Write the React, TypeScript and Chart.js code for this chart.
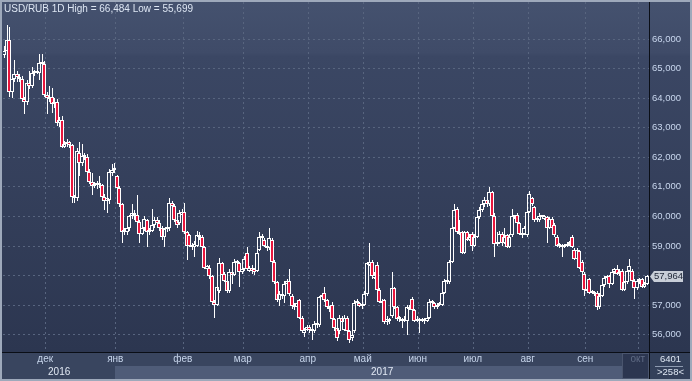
import React, { useEffect, useRef } from 'react';
import { Chart, registerables } from 'chart.js';

Chart.register(...registerables);

// ---- Daily OHLC, USD/RUB ----
const OPEN = [
  65.45, 65.6, 65.95, 64.2, 64.65, 64.8, 64.7, 64.65, 63.95, 63.85,
  64.5, 64.4, 64.85, 64.9, 64.85, 65.2, 65.15, 64.1, 63.95, 64.05,
  63.8, 63.85, 63.15, 63.25, 62.35, 62.45, 62.5, 62.4, 60.65, 60.6,
  62.15, 61.8, 62.05, 62.0, 61.5, 61.15, 61.0, 61.05, 61.1, 61.05,
  60.65, 60.5, 60.55, 61.45, 61.55, 61.35, 60.95, 60.4, 59.45, 59.45,
  59.6, 60.0, 60.1, 60.05, 59.8, 59.4, 59.6, 59.85, 59.45, 59.5,
  59.7, 59.85, 59.75, 59.6, 59.3, 59.55, 59.6, 60.45, 60.35, 59.85,
  59.75, 60.05, 60.15, 59.45, 59.35, 59.0, 58.95, 59.0, 59.35, 59.3,
  58.95, 58.2, 58.25, 57.95, 57.1, 57.0, 57.45, 58.4, 58.05, 57.8,
  57.45, 58.1, 58.0, 58.45, 58.4, 58.1, 58.2, 58.75, 58.15, 58.25,
  58.2, 58.15, 58.85, 59.3, 59.2, 59.0, 58.9, 59.2, 58.45, 57.75,
  57.15, 57.35, 57.3, 57.7, 57.8, 57.3, 56.95, 56.9, 57.15, 56.55,
  56.05, 56.15, 56.25, 56.15, 56.1, 56.35, 56.3, 57.25, 57.4, 57.15,
  56.9, 57.0, 56.5, 56.2, 56.1, 56.55, 56.15, 56.55, 56.1, 55.85,
  56.1, 57.05, 57.05, 56.95, 57.0, 57.35, 58.35, 58.45, 57.9, 58.35,
  57.5, 57.1, 57.15, 56.4, 56.5, 56.6, 57.55, 56.9, 56.5, 56.5,
  56.45, 56.45, 56.9, 57.2, 56.8, 56.45, 56.5, 56.45, 56.5, 56.45,
  56.55, 57.1, 57.05, 56.9, 57.0, 57.0, 57.4, 57.8, 57.75, 58.45,
  59.6, 60.25, 59.45, 59.45, 58.75, 59.45, 59.2, 59.4, 59.0, 59.3,
  59.95, 60.2, 60.4, 60.55, 60.4, 60.8, 60.0, 59.05, 59.1, 59.4,
  59.1, 59.35, 58.95, 59.35, 59.95, 60.05, 59.75, 59.4, 59.4, 59.35,
  60.15, 60.6, 60.3, 59.9, 59.85, 60.0, 59.9, 59.95, 59.6, 59.9,
  59.7, 59.3, 59.0, 59.0, 58.95, 59.0, 59.05, 59.3, 58.85, 58.55,
  58.8, 58.45, 58.05, 57.5, 57.85, 57.45, 57.4, 57.4, 56.9, 57.3,
  57.65, 57.9, 57.95, 57.7, 58.1, 58.2, 58.05, 58.15, 57.5, 57.75,
  58.15, 58.15, 57.8, 57.55, 57.8, 57.85, 57.6, 57.7,
];
const HIGH = [
  65.75, 66.484, 66.4, 64.7, 65.3, 64.9, 64.8, 64.75, 64.05, 64.6,
  64.9, 65.05, 64.95, 65.2, 65.5, 65.5, 65.25, 64.2, 64.4, 64.35,
  64.0, 63.95, 63.35, 63.4, 62.55, 62.6, 62.55, 62.45, 60.7, 62.3,
  62.5, 62.45, 62.15, 62.1, 61.6, 61.45, 61.15, 61.2, 61.35, 61.1,
  60.75, 60.8, 61.6, 61.75, 61.8, 61.4, 61.0, 60.45, 59.6, 59.7,
  60.05, 60.4, 60.2, 60.7, 59.85, 59.7, 60.0, 59.9, 59.6, 60.25,
  59.95, 59.95, 59.85, 59.65, 59.6, 59.7, 60.6, 60.5, 60.4, 59.9,
  60.2, 60.25, 60.45, 59.5, 59.4, 59.1, 59.15, 59.5, 59.45, 59.35,
  59.0, 58.35, 58.35, 58.0, 57.15, 57.7, 58.57, 58.45, 58.1, 57.85,
  58.2, 58.15, 58.55, 58.5, 58.45, 58.3, 58.65, 58.95, 58.3, 58.35,
  58.25, 58.85, 59.45, 59.4, 59.25, 59.05, 59.6, 59.25, 58.5, 57.8,
  57.45, 57.4, 57.8, 57.85, 58.2, 57.35, 57.05, 57.1, 57.2, 56.6,
  56.2, 56.3, 56.3, 56.3, 56.45, 56.4, 57.3, 57.35, 57.6, 57.2,
  56.95, 57.1, 56.55, 56.25, 56.65, 56.6, 56.65, 56.6, 56.15, 56.1,
  57.15, 57.2, 57.1, 57.1, 57.45, 58.45, 59.1, 58.5, 58.1, 58.45,
  57.55, 57.2, 57.2, 56.6, 56.55, 58.1, 57.6, 56.95, 56.6, 56.55,
  56.6, 57.0, 57.0, 57.25, 56.85, 56.6, 56.55, 56.55, 56.55, 56.6,
  57.2, 57.15, 57.1, 57.05, 57.1, 57.45, 57.85, 57.9, 58.5, 59.65,
  60.4, 60.3, 59.85, 59.5, 59.5, 59.5, 59.4, 59.45, 59.4, 60.05,
  60.3, 60.5, 60.65, 60.6, 60.98, 60.85, 60.1, 59.45, 59.5, 59.45,
  59.6, 59.4, 59.4, 60.25, 60.05, 60.1, 59.8, 59.45, 59.65, 60.2,
  60.85, 60.65, 60.35, 59.95, 60.1, 60.05, 60.05, 60.0, 59.95, 59.95,
  59.75, 59.35, 59.1, 59.05, 59.05, 59.1, 59.15, 59.35, 58.9, 58.9,
  58.85, 58.5, 58.1, 57.55, 57.9, 57.5, 57.45, 57.45, 57.4, 57.7,
  57.95, 58.0, 58.0, 58.15, 58.25, 58.35, 58.2, 58.2, 57.8, 58.2,
  58.55, 58.2, 57.85, 57.85, 57.9, 57.9, 57.75, 58.0,
];
const LOW = [
  65.35, 65.55, 64.05, 64.0, 64.55, 64.55, 64.55, 63.85, 63.45, 63.75,
  64.3, 64.35, 64.75, 64.8, 64.6, 65.05, 64.05, 63.45, 63.85, 63.5,
  63.65, 63.05, 63.0, 62.3, 62.3, 62.35, 62.3, 60.45, 60.45, 60.5,
  61.35, 61.7, 61.9, 61.45, 61.1, 60.7, 60.95, 60.9, 60.95, 60.6,
  60.2, 60.1, 60.4, 61.35, 61.45, 60.9, 60.3, 59.1, 59.35, 59.35,
  59.5, 59.9, 59.85, 59.75, 59.1, 59.35, 59.5, 58.95, 59.35, 59.45,
  59.6, 59.7, 59.5, 59.2, 58.95, 59.45, 59.5, 60.2, 59.8, 59.6,
  59.7, 60.0, 59.4, 58.5, 58.95, 58.85, 58.6, 58.95, 59.2, 58.9,
  58.2, 58.15, 57.85, 57.0, 56.55, 56.95, 57.4, 57.95, 57.75, 57.4,
  57.4, 57.7, 57.95, 58.3, 57.6, 58.05, 58.15, 58.15, 58.1, 58.05,
  58.0, 58.1, 58.8, 59.15, 58.95, 58.8, 58.85, 58.4, 57.7, 57.1,
  56.95, 57.2, 57.05, 57.65, 57.3, 56.85, 56.8, 56.85, 56.5, 56.05,
  55.9, 56.1, 56.05, 55.8, 56.05, 56.2, 56.25, 57.2, 57.1, 56.85,
  56.75, 56.45, 56.1, 55.75, 56.0, 56.35, 56.1, 56.05, 55.699, 55.75,
  56.05, 57.0, 56.9, 56.85, 56.95, 57.3, 58.3, 57.85, 57.85, 57.45,
  57.05, 56.95, 56.35, 56.3, 56.35, 56.55, 56.85, 56.45, 56.4, 56.2,
  56.4, 55.97, 56.8, 56.75, 56.4, 56.4, 56.05, 56.4, 56.35, 56.4,
  56.5, 56.95, 56.85, 56.85, 56.95, 56.95, 57.35, 57.7, 57.7, 58.4,
  59.55, 59.4, 59.35, 58.7, 58.7, 59.15, 59.15, 58.8, 58.95, 59.25,
  59.9, 60.15, 60.3, 60.3, 60.35, 59.95, 58.6, 59.0, 59.05, 59.0,
  59.05, 58.9, 58.9, 59.3, 59.9, 59.7, 59.35, 59.25, 59.35, 59.3,
  60.1, 60.35, 59.8, 59.8, 59.8, 59.9, 59.85, 59.1, 59.55, 59.55,
  59.3, 58.95, 58.9, 58.6, 58.9, 58.95, 59.0, 58.9, 58.5, 58.5,
  58.2, 58.05, 57.3, 57.4, 57.35, 57.35, 57.3, 56.8, 56.85, 57.25,
  57.6, 57.85, 57.55, 57.65, 58.05, 58.0, 57.95, 57.45, 57.45, 57.7,
  58.1, 57.75, 57.2, 57.5, 57.7, 57.55, 57.55, 57.65,
];
const CLOSE = [
  65.6, 65.95, 64.2, 64.65, 64.8, 64.7, 64.65, 63.95, 63.85, 64.5,
  64.4, 64.85, 64.9, 64.85, 65.2, 65.15, 64.1, 64.0, 64.05, 63.8,
  63.85, 63.15, 63.25, 62.35, 62.45, 62.5, 62.4, 60.65, 60.6, 62.2,
  61.8, 62.05, 62.0, 61.5, 61.15, 61.0, 61.05, 61.1, 61.05, 60.65,
  60.5, 60.6, 61.5, 61.55, 61.6, 60.95, 60.4, 59.45, 59.5, 59.6,
  60.0, 60.1, 60.05, 59.8, 59.4, 59.6, 59.9, 59.45, 59.5, 59.7,
  59.85, 59.75, 59.6, 59.3, 59.55, 59.6, 60.45, 60.35, 59.85, 59.7,
  60.1, 60.15, 59.45, 59.0, 59.0, 58.95, 59.05, 59.35, 59.3, 58.95,
  58.25, 58.3, 57.95, 57.1, 57.0, 57.6, 58.4, 58.0, 57.8, 57.45,
  58.1, 58.0, 58.45, 58.4, 58.1, 58.2, 58.55, 58.2, 58.25, 58.15,
  58.1, 58.75, 59.3, 59.25, 59.0, 58.9, 59.25, 58.45, 57.75, 57.15,
  57.35, 57.3, 57.7, 57.8, 57.35, 56.95, 56.9, 57.05, 56.55, 56.1,
  56.15, 56.25, 56.15, 56.1, 56.35, 56.3, 57.25, 57.3, 57.15, 56.9,
  56.85, 56.5, 56.2, 55.85, 56.55, 56.4, 56.55, 56.1, 55.8, 55.95,
  57.05, 57.1, 56.95, 57.0, 57.35, 58.4, 58.45, 57.95, 58.0, 57.5,
  57.1, 57.05, 56.4, 56.5, 56.45, 57.55, 56.9, 56.5, 56.55, 56.45,
  56.5, 56.9, 56.85, 56.8, 56.45, 56.5, 56.45, 56.5, 56.45, 56.55,
  57.1, 57.05, 56.9, 57.0, 57.05, 57.4, 57.8, 57.75, 58.45, 59.6,
  60.2, 59.45, 59.4, 58.75, 59.45, 59.2, 59.3, 59.0, 59.3, 59.95,
  60.2, 60.4, 60.55, 60.4, 60.8, 60.0, 59.05, 59.1, 59.4, 59.1,
  59.3, 58.95, 59.3, 60.0, 60.05, 59.75, 59.4, 59.35, 59.6, 60.15,
  60.75, 60.4, 59.85, 59.85, 60.0, 59.95, 60.0, 59.6, 59.9, 59.6,
  59.35, 59.0, 59.05, 58.95, 59.0, 59.05, 59.1, 58.95, 58.55, 58.85,
  58.25, 58.1, 57.5, 57.45, 57.4, 57.4, 57.35, 56.9, 57.3, 57.65,
  57.9, 57.95, 57.7, 58.1, 58.2, 58.05, 58.1, 57.5, 57.75, 58.15,
  58.3, 57.8, 57.55, 57.8, 57.85, 57.6, 57.7, 57.964,
];

// ---- Axes ----
const Y_TICKS = [56, 57, 58, 59, 60, 61, 62, 63, 64, 65, 66];
const Y_MIN = 55.39;
const Y_MAX = 67.254;
const MONTH_LABELS = ['дек', 'янв', 'фев', 'мар', 'апр', 'май', 'июн', 'июл', 'авг', 'сен', 'окт'];
// month boundaries expressed in bar-index units
const MONTH_STARTS = [16.5, 44.5, 71.5, 95.5, 121.5, 143.5, 165.5, 187.5, 209.5, 232.5, 253.5];
const YEAR_LABELS = ['2016', '2017'];
const SYMBOL = 'USD/RUB';
const PERIOD = '1D';
const INFO_TOP = '6401';
const INFO_BOTTOM = '>258<';

const W = 692;
const H = 381;
const RED = '#e8163d';
const WHITE = '#ffffff';
const FONT = '"Liberation Sans", Arial, Helvetica, sans-serif';

const fmt = (v: number) => v.toFixed(3).replace('.', ',');

const chromePlugin: any = {
  id: 'chrome',
  beforeDraw(chart: any) {
    const { ctx, chartArea: a } = chart;
    const xs = chart.scales.x;
    ctx.save();
    const g = ctx.createLinearGradient(0, 0, 0, a.bottom);
    g.addColorStop(0, '#45526f');
    g.addColorStop(0.15, '#3f4b68');
    g.addColorStop(0.16, '#3b4764');
    g.addColorStop(1, '#2c3650');
    ctx.fillStyle = g;
    ctx.fillRect(0, 0, W, a.bottom);

    const rowTop = a.bottom + 1;
    const rowMid = rowTop + 13;
    const rowBot = H - 2;
    ctx.fillStyle = '#39455f';
    ctx.fillRect(0, rowTop, W, rowBot - rowTop);
    const janX = Math.round(xs.getPixelForValue(MONTH_STARTS[1]));
    const octX = Math.round(xs.getPixelForValue(MONTH_STARTS[MONTH_STARTS.length - 1]));
    const boxL = octX - 16;
    ctx.fillStyle = '#4f5c78';
    ctx.fillRect(janX, rowMid, boxL - janX, rowBot - rowMid);
    ctx.fillStyle = '#2c3650';
    ctx.fillRect(boxL, rowTop, a.right - boxL, rowBot - rowTop);
    ctx.strokeStyle = '#4a556e';
    ctx.lineWidth = 1;
    ctx.strokeRect(boxL + 0.5, rowTop + 0.5, a.right - boxL - 1, rowBot - rowTop - 1);
    ctx.fillStyle = '#33405a';
    ctx.fillRect(a.right + 1, rowTop, W - a.right - 1, rowBot - rowTop);
    ctx.restore();
  },
  beforeDatasetsDraw(chart: any) {
    const { ctx, chartArea: a } = chart;
    const xs = chart.scales.x;
    const ys = chart.scales.y;
    ctx.save();
    ctx.beginPath();
    ctx.rect(a.left, a.top, a.right - a.left, a.bottom - a.top);
    ctx.clip();
    ctx.setLineDash([2, 3]);
    ctx.strokeStyle = '#58657f';
    ctx.lineWidth = 1;
    ctx.beginPath();
    Y_TICKS.forEach((v) => {
      const y = Math.round(ys.getPixelForValue(v)) + 0.5;
      ctx.moveTo(a.left, y);
      ctx.lineTo(a.right, y);
    });
    MONTH_STARTS.forEach((m) => {
      const x = Math.round(xs.getPixelForValue(m)) + 0.5;
      ctx.moveTo(x, a.top);
      ctx.lineTo(x, a.bottom);
    });
    ctx.stroke();
    ctx.restore();

    // snap candle elements to whole pixels
    chart.data.datasets.forEach((_: any, di: number) => {
      const meta = chart.getDatasetMeta(di);
      meta.data.forEach((el: any) => {
        el.x = di === 0 ? Math.round(el.x) : Math.round(el.x) + 0.5;
        el.y = Math.round(el.y);
        el.base = Math.round(el.base);
        if (di === 0 && Math.abs(el.base - el.y) < 2) el.y = el.base - 2;
      });
    });
  },
  afterDraw(chart: any) {
    const { ctx, chartArea: a } = chart;
    const xs = chart.scales.x;
    const ys = chart.scales.y;
    ctx.save();
    // separators
    ctx.fillStyle = '#0a0e16';
    ctx.fillRect(0, a.bottom, W, 1);
    ctx.fillRect(a.right, 0, 1, H);

    // title
    const hi = Math.max(...HIGH);
    const lo = Math.min(...LOW);
    ctx.font = `10px ${FONT}`;
    ctx.fillStyle = '#dde6f3';
    ctx.textAlign = 'left';
    ctx.textBaseline = 'alphabetic';
    ctx.fillText(`${SYMBOL} ${PERIOD} High = ${fmt(hi)} Low = ${fmt(lo)}`, 4, 12);

    // price axis labels
    ctx.font = `9.5px ${FONT}`;
    const last = CLOSE[CLOSE.length - 1];
    const lastY = Math.round(ys.getPixelForValue(last));
    ctx.textBaseline = 'middle';
    ctx.fillStyle = '#c9d7ee';
    Y_TICKS.forEach((v) => {
      const y = Math.round(ys.getPixelForValue(v));
      if (Math.abs(y - lastY) < 9) return;
      ctx.fillText(fmt(v), a.right + 3, y + 0.5);
    });

    // last price marker
    ctx.fillStyle = '#c8ced8';
    ctx.beginPath();
    ctx.moveTo(a.right + 1, lastY + 0.5);
    ctx.lineTo(a.right + 5, lastY - 5);
    ctx.lineTo(a.right + 34, lastY - 5);
    ctx.lineTo(a.right + 34, lastY + 6);
    ctx.lineTo(a.right + 5, lastY + 6);
    ctx.closePath();
    ctx.fill();
    ctx.fillStyle = '#1d2536';
    ctx.fillText(fmt(last), a.right + 5, lastY + 0.5);

    // month & year labels
    ctx.font = `10px ${FONT}`;
    const rowTop = a.bottom + 1;
    ctx.textAlign = 'center';
    MONTH_LABELS.forEach((lab, i) => {
      const x = xs.getPixelForValue(MONTH_STARTS[i]);
      ctx.fillStyle = i === MONTH_LABELS.length - 1 ? '#5f6b84' : '#c6d4ea';
      ctx.fillText(lab, x, rowTop + 6.5);
    });
    const janX = xs.getPixelForValue(MONTH_STARTS[1]);
    ctx.fillStyle = '#e2e9f4';
    ctx.fillText(YEAR_LABELS[0], (a.left + janX) / 2, rowTop + 19);
    ctx.fillText(YEAR_LABELS[1], (janX + a.right) / 2, rowTop + 19);

    // info box
    ctx.font = `9.5px ${FONT}`;
    const cx = (a.right + W) / 2;
    ctx.fillStyle = '#dfe7f3';
    ctx.fillText(INFO_TOP, cx, rowTop + 6.5);
    ctx.fillText(INFO_BOTTOM, cx, rowTop + 19);
    ctx.fillStyle = '#8e9bb1';
    ctx.fillRect(a.right + 6, rowTop + 13, 28, 1);

    // outer frame
    ctx.strokeStyle = '#9ea9bb';
    ctx.lineWidth = 2;
    ctx.strokeRect(1, 1, W - 2, H - 2);
    ctx.restore();
  },
};

export default function App() {
  const ref = useRef<HTMLCanvasElement | null>(null);

  useEffect(() => {
    document.body.style.margin = '0';
    const canvas = ref.current;
    if (!canvas) return;
    const idx = OPEN.map((_, i) => i);
    const bodies = idx.map((i) => ({ x: i, y: [Math.min(OPEN[i], CLOSE[i]), Math.max(OPEN[i], CLOSE[i])] }));
    const upper = idx.map((i) => ({ x: i, y: [Math.max(OPEN[i], CLOSE[i]), HIGH[i]] }));
    const lower = idx.map((i) => ({ x: i, y: [LOW[i], Math.min(OPEN[i], CLOSE[i])] }));
    const bodyFill = idx.map((i) => (CLOSE[i] < OPEN[i] ? RED : 'rgba(0,0,0,0)'));

    const common = { grouped: false, borderSkipped: false, inflateAmount: 0, borderRadius: 0 };
    const chart = new Chart(canvas, {
      type: 'bar',
      data: {
        datasets: [
          { ...common, data: bodies as any, backgroundColor: bodyFill, borderColor: WHITE, borderWidth: 1, barThickness: 4 },
          { ...common, data: upper as any, backgroundColor: WHITE, borderWidth: 0, barThickness: 1 },
          { ...common, data: lower as any, backgroundColor: WHITE, borderWidth: 0, barThickness: 1 },
        ],
      } as any,
      options: {
        responsive: false,
        animation: false,
        devicePixelRatio: 1,
        events: [],
        layout: { padding: { left: 3, top: 2, right: 43, bottom: 29 } },
        plugins: { legend: { display: false }, tooltip: { enabled: false } },
        scales: {
          x: { type: 'linear', min: -0.4, max: 258, offset: false, display: false },
          y: { type: 'linear', min: Y_MIN, max: Y_MAX, beginAtZero: false, display: false },
        },
      } as any,
      plugins: [chromePlugin],
    });
    return () => chart.destroy();
  }, []);

  return <canvas ref={ref} width={W} height={H} style={{ display: 'block' }} />;
}
